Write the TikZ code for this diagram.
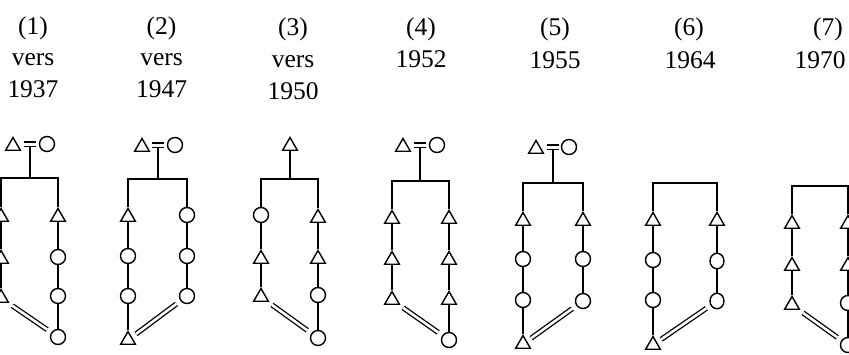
\documentclass[tikz,border=0pt]{standalone}
\usepackage{fontspec}
\setmainfont{Liberation Serif}
\usetikzlibrary{shapes.geometric}

\begin{document}
\begin{tikzpicture}[x=1pt,y=-1pt,
  kin/.style={line width=1.6pt},
  tri/.style={draw, line width=1.4pt, regular polygon, regular polygon sides=3,
              minimum size=17pt, inner sep=0pt, yshift=-2pt},
  circ/.style={draw, line width=1.4pt, circle, minimum size=15pt, inner sep=0pt},
  ovl/.style={draw, line width=1.4pt, ellipse, minimum width=14pt,
              minimum height=15.5pt, inner sep=0pt},
  alliance/.style={line width=1.3pt, double, double distance=2.6pt,
                   shorten <=5pt, shorten >=5pt},
  yr/.style={font=\fontsize{25.5}{30}\selectfont, anchor=base, inner sep=0pt},
]
\clip (0,0) rectangle (849,354);

% ---------- dates ----------
\node[yr] (t1a) at (33,34) {(1)};
\node[yr] (t1b) at (33,65) {vers};
\node[yr] (t1c) at (33,97) {1937};
\node[yr] (t2a) at (161.5,34) {(2)};
\node[yr] (t2b) at (161.5,65) {vers};
\node[yr] (t2c) at (161.5,97) {1947};
\node[yr] (t3a) at (293,35) {(3)};
\node[yr] (t3b) at (293,67) {vers};
\node[yr] (t3c) at (293,99) {1950};
\node[yr] (t4a) at (421,35) {(4)};
\node[yr] (t4b) at (421,67) {1952};
\node[yr] (t5a) at (555,35) {(5)};
\node[yr] (t5b) at (555,68) {1955};
\node[yr] (t6a) at (689,35) {(6)};
\node[yr] (t6b) at (690,68) {1964};
\node[yr] (t7a) at (828,35) {(7)};
\node[yr] (t7b) at (820,68) {1970};

% ---------- (1) ----------
\node[tri]  (a1h) at (13,144) {};
\node[circ] (a1w) at (47,144) {};
\coordinate (a1m) at (30,144);
\coordinate (a1c) at (30,178);
\coordinate (a1bl) at (1,178);
\coordinate (a1br) at (58,178);
\node[tri]  (a1l1) at (1,215) {};
\node[tri]  (a1l2) at (1,257) {};
\node[tri]  (a1l3) at (1,296) {};
\node[tri]  (a1r1) at (58,215) {};
\node[circ] (a1r2) at (58,257) {};
\node[circ] (a1r3) at (58,296) {};
\node[circ] (a1r4) at (58,337) {};
\draw[kin] ([shift={(-6,-2.3)}]a1m) -- ([shift={(6,-2.3)}]a1m);
\draw[kin] ([shift={(-6,2.3)}]a1m) -- ([shift={(6,2.3)}]a1m);
\draw[kin] ([shift={(0,2.3)}]a1m) -- (a1c);
\draw[kin] (a1l1) -- (a1bl) -- (a1br) -- (a1r1);
\draw[kin] (a1l1) -- (a1l2) (a1l2) -- (a1l3);
\draw[kin] (a1r1) -- (a1r2) (a1r2) -- (a1r3) (a1r3) -- (a1r4);
\draw[alliance] (a1l3) -- (a1r4);

% ---------- (2) ----------
\node[tri]  (a2h) at (142,145) {};
\node[circ] (a2w) at (175,145) {};
\coordinate (a2m) at (158,145);
\coordinate (a2c) at (158,179);
\coordinate (a2bl) at (128,179);
\coordinate (a2br) at (187,179);
\node[tri]  (a2l1) at (128,215) {};
\node[circ] (a2l2) at (128,256) {};
\node[circ] (a2l3) at (128,296) {};
\node[tri]  (a2l4) at (128,338) {};
\node[circ] (a2r1) at (187,215) {};
\node[circ] (a2r2) at (187,256) {};
\node[circ] (a2r3) at (187,296) {};
\draw[kin] ([shift={(-6,-2.3)}]a2m) -- ([shift={(6,-2.3)}]a2m);
\draw[kin] ([shift={(-6,2.3)}]a2m) -- ([shift={(6,2.3)}]a2m);
\draw[kin] ([shift={(0,2.3)}]a2m) -- (a2c);
\draw[kin] (a2l1) -- (a2bl) -- (a2br) -- (a2r1);
\draw[kin] (a2l1) -- (a2l2) (a2l2) -- (a2l3) (a2l3) -- (a2l4);
\draw[kin] (a2r1) -- (a2r2) (a2r2) -- (a2r3);
\draw[alliance] (a2r3) -- (a2l4);

% ---------- (3) ----------
\node[tri]  (a3h) at (290,144) {};
\coordinate (a3c) at (290,179);
\coordinate (a3bl) at (261,179);
\coordinate (a3br) at (318,179);
\node[circ] (a3l1) at (261,215) {};
\node[tri]  (a3l2) at (261,257) {};
\node[tri]  (a3l3) at (261,295) {};
\node[tri]  (a3r1) at (318,216) {};
\node[tri]  (a3r2) at (318,257) {};
\node[circ] (a3r3) at (318,295) {};
\node[circ] (a3r4) at (318,338) {};
\draw[kin] (a3h) -- (a3c);
\draw[kin] (a3l1) -- (a3bl) -- (a3br) -- (a3r1);
\draw[kin] (a3l1) -- (a3l2) (a3l2) -- (a3l3);
\draw[kin] (a3r1) -- (a3r2) (a3r2) -- (a3r3) (a3r3) -- (a3r4);
\draw[alliance] (a3l3) -- (a3r4);

% ---------- (4) ----------
\node[tri]  (a4h) at (403,145) {};
\node[circ] (a4w) at (437,145) {};
\coordinate (a4m) at (420,145);
\coordinate (a4c) at (420,181);
\coordinate (a4bl) at (392,181);
\coordinate (a4br) at (449,181);
\node[tri]  (a4l1) at (392,217) {};
\node[tri]  (a4l2) at (392,258) {};
\node[tri]  (a4l3) at (392,298) {};
\node[tri]  (a4r1) at (449,217) {};
\node[tri]  (a4r2) at (449,258) {};
\node[tri]  (a4r3) at (449,298) {};
\node[circ] (a4r4) at (449,340) {};
\draw[kin] ([shift={(-6,-2.3)}]a4m) -- ([shift={(6,-2.3)}]a4m);
\draw[kin] ([shift={(-6,2.3)}]a4m) -- ([shift={(6,2.3)}]a4m);
\draw[kin] ([shift={(0,2.3)}]a4m) -- (a4c);
\draw[kin] (a4l1) -- (a4bl) -- (a4br) -- (a4r1);
\draw[kin] (a4l1) -- (a4l2) (a4l2) -- (a4l3);
\draw[kin] (a4r1) -- (a4r2) (a4r2) -- (a4r3) (a4r3) -- (a4r4);
\draw[alliance] (a4l3) -- (a4r4);

% ---------- (5) ----------
\node[tri]  (a5h) at (536,147) {};
\node[circ] (a5w) at (569,147) {};
\coordinate (a5m) at (553,147);
\coordinate (a5c) at (553,183);
\coordinate (a5bl) at (523,183);
\coordinate (a5br) at (583,183);
\node[tri]  (a5l1) at (523,219) {};
\node[circ] (a5l2) at (523,259) {};
\node[circ] (a5l3) at (523,300) {};
\node[tri]  (a5l4) at (523,342) {};
\node[tri]  (a5r1) at (583,219) {};
\node[circ] (a5r2) at (583,259) {};
\node[circ] (a5r3) at (583,301) {};
\draw[kin] ([shift={(-6,-2.3)}]a5m) -- ([shift={(6,-2.3)}]a5m);
\draw[kin] ([shift={(-6,2.3)}]a5m) -- ([shift={(6,2.3)}]a5m);
\draw[kin] ([shift={(0,2.3)}]a5m) -- (a5c);
\draw[kin] (a5l1) -- (a5bl) -- (a5br) -- (a5r1);
\draw[kin] (a5l1) -- (a5l2) (a5l2) -- (a5l3) (a5l3) -- (a5l4);
\draw[kin] (a5r1) -- (a5r2) (a5r2) -- (a5r3);
\draw[alliance] (a5r3) -- (a5l4);

% ---------- (6) ----------
\coordinate (a6bl) at (653,183);
\coordinate (a6br) at (717,183);
\node[tri]  (a6l1) at (653,219) {};
\node[circ] (a6l2) at (653,260) {};
\node[circ] (a6l3) at (653,300) {};
\node[tri]  (a6l4) at (653,343) {};
\node[tri]  (a6r1) at (717,219) {};
\node[ovl]  (a6r2) at (717,261) {};
\node[ovl]  (a6r3) at (717,301) {};
\draw[kin] (a6l1) -- (a6bl) -- (a6br) -- (a6r1);
\draw[kin] (a6l1) -- (a6l2) (a6l2) -- (a6l3) (a6l3) -- (a6l4);
\draw[kin] (a6r1) -- (a6r2) (a6r2) -- (a6r3);
\draw[alliance] (a6r3) -- (a6l4);

% ---------- (7) ----------
\coordinate (a7bl) at (792,186);
\coordinate (a7br) at (848,186);
\node[tri]  (a7l1) at (792,222) {};
\node[tri]  (a7l2) at (792,264) {};
\node[tri]  (a7l3) at (792,303) {};
\node[tri]  (a7r1) at (848,222) {};
\node[tri]  (a7r2) at (848,264) {};
\node[circ] (a7r3) at (848,303) {};
\node[circ] (a7r4) at (848,345) {};
\draw[kin] (a7l1) -- (a7bl) -- (a7br) -- (a7r1);
\draw[kin] (a7l1) -- (a7l2) (a7l2) -- (a7l3);
\draw[kin] (a7r1) -- (a7r2) (a7r2) -- (a7r3) (a7r3) -- (a7r4);
\draw[alliance] (a7l3) -- (a7r4);
\end{tikzpicture}
\end{document}
